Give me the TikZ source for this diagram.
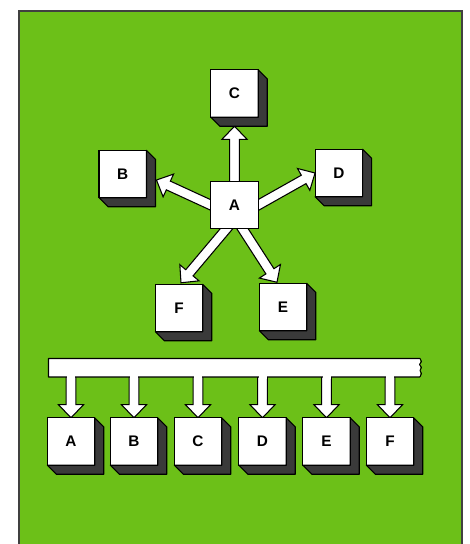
\documentclass[tikz,border=0pt]{standalone}
\usepackage{fontspec}
\setmainfont{Liberation Sans}
\usetikzlibrary{calc}
\pgfdeclarelayer{back}
\pgfdeclarelayer{mid}
\pgfsetlayers{back,mid,main}
\definecolor{panelgreen}{RGB}{108,192,24}
\definecolor{sidegray}{RGB}{58,58,58}

\tikzset{
  box/.style={draw=black, fill=white, line width=0.8pt, minimum size=35.6pt,
    inner sep=0pt, outer sep=0pt, font=\bfseries\fontsize{11.5}{13}\selectfont},
  extr/.style={fill=sidegray, draw=black, line width=0.8pt, line join=round},
  fatarrow/.style={fill=white, draw=black, line width=0.8pt, line join=miter},
  busbar/.style={fill=white, minimum width=278.6pt, minimum height=13.9pt,
    inner sep=0pt, outer sep=0pt},
}

% hollow block arrow from #1 to #2 (tip at #2)
\newcommand\hollowarrow[2]{%
  \draw[fatarrow] let \p1=(#1), \p2=(#2),
     \n1={atan2(\y2-\y1,\x2-\x1)}, \n2={\n1+90}, \n3={\n1-90}, \n4={\n1+180} in
     ($(\p1)+(\n4:6pt)+(\n2:3.6pt)$) -- ($(\p2)+(\n4:9.8pt)+(\n2:3.6pt)$)
     -- ($(\p2)+(\n4:9.8pt)+(\n2:9.4pt)$) -- (\p2)
     -- ($(\p2)+(\n4:9.8pt)+(\n3:9.4pt)$) -- ($(\p2)+(\n4:9.8pt)+(\n3:3.6pt)$)
     -- ($(\p1)+(\n4:6pt)+(\n3:3.6pt)$) -- cycle;}

% dark extruded sides of a block, to the right and below
\newcommand\extrude[1]{%
  \filldraw[extr] (#1.north east) -- ++(9,9) -- ($(#1.south east)+(9,9)$)
    -- ($(#1.south west)+(9,9)$) -- (#1.south west) -- (#1.south east) -- cycle;}

\begin{document}
\begin{tikzpicture}[x=0.75pt,y=-0.75pt]
\useasboundingbox (0,0) rectangle (469,544);

\begin{pgfonlayer}{back}
  \filldraw[fill=panelgreen, draw=black!75, line width=1.2pt] (19,11) rectangle (462,560);
\end{pgfonlayer}

% star arrangement: flat centre block, raised outer blocks
\node[box] (a) at (234.5,205) {A};
\node[box] (c) at (234.5,93.5) {C};
\node[box] (b) at (122.75,174) {B};
\node[box] (d) at (338.8,173) {D};
\node[box] (f) at (179,308) {F};
\node[box] (e) at (283,307) {E};
\foreach \k in {b,c,d,e,f} {\extrude{\k}}

\begin{pgfonlayer}{mid}
  \hollowarrow{a.north}{$(c.south)+(0,9)$}
  \hollowarrow{a.west}{$(b.east)+(10,6)$}
  \hollowarrow{a.east}{d.west}
  \hollowarrow{$(a.south)+(-8,0)$}{$(f.north)+(2,-1.5)$}
  \hollowarrow{$(a.south)+(8,0)$}{$(e.north)+(-6,-1)$}
\end{pgfonlayer}

% bus arrangement
\node[box] (ba) at (71,441.5) {A};
\node[box] (bb) at (134,441.5) {B};
\node[box] (bc) at (198,441.5) {C};
\node[box] (bd) at (262.5,441.5) {D};
\node[box] (be) at (326.5,441.5) {E};
\node[box] (bf) at (390,441.5) {F};
\foreach \k in {ba,bb,bc,bd,be,bf} {\extrude{\k}}

\node[busbar] (bus) at (234.25,367.75) {};

\begin{pgfonlayer}{mid}
  \foreach \k in {ba,bb,bc,bd,be,bf} {\hollowarrow{bus.center -| \k.north}{\k.north}}
\end{pgfonlayer}

\draw[line width=0.8pt, line join=round] (bus.south east) -- (bus.south west)
  -- (bus.north west) -- (bus.north east) -- ++(1.5,3) -- ++(-2,3) -- ++(2,3)
  -- ++(-1.5,3) -- ++(1.5,3) -- (bus.south east);
\foreach \k in {ba,bb,bc,bd,be,bf}
  {\fill[white] ($(bus.south -| \k.north)+(-4,-1.5)$) rectangle ($(bus.south -| \k.north)+(4,1.5)$);}
\end{tikzpicture}
\end{document}
